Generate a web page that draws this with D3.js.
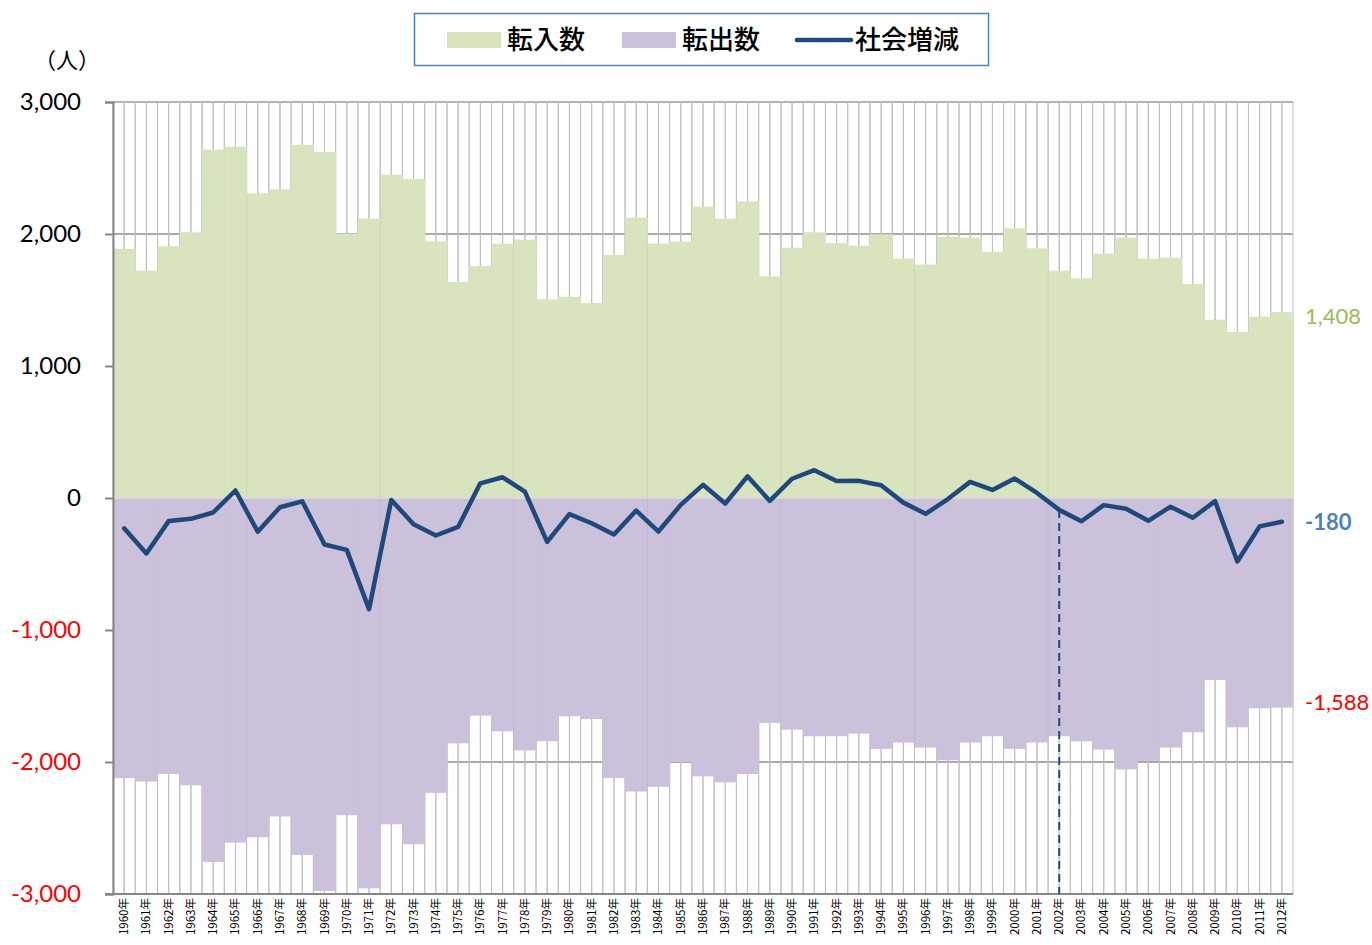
<!doctype html>
<html lang="ja">
  <head>
    <meta charset="utf-8">
    <title>転入数・転出数・社会増減</title>
    <script src="https://d3js.org/d3.v7.min.js"></script>
    <style>
      body { margin: 0; background: #fff; }
      svg { display: block; }
      .jp { font-family: "Noto Sans CJK JP", "Noto Sans", sans-serif; }
      .num { font-family: Lato, "Open Sans", sans-serif; }
    </style>
  </head>
  <body>
    <svg id="chart" width="1372" height="945"></svg>
  <script>
    // years on the category axis
    const years = d3.range(1960, 2013);

    // 転入数 (moved in)
    const inValues = [
      1888, 1722, 1907, 2013, 2639, 2662, 2308, 2338, 2674, 2621,
      2003, 2116, 2449, 2417, 1944, 1636, 1758, 1927, 1957, 1505,
      1525, 1477, 1841, 2124, 1927, 1942, 2207, 2116, 2247, 1679,
      1896, 2013, 1932, 1912, 1998, 1813, 1768, 1980, 1972, 1864,
      2043, 1891, 1722, 1664, 1851, 1972, 1813, 1821, 1621, 1351,
      1258, 1374, 1408
    ];

    // 転出数 (moved out), drawn below zero
    const outValues = [
      2122, 2148, 2090, 2176, 2757, 2611, 2570, 2413, 2704, 2977,
      2403, 2957, 2472, 2623, 2234, 1859, 1649, 1768, 1912, 1842,
      1654, 1675, 2122, 2224, 2188, 2001, 2109, 2154, 2091, 1704,
      1755, 1805, 1805, 1785, 1901, 1853, 1891, 1987, 1853, 1805,
      1901, 1853, 1805, 1843, 1906, 2056, 1992, 1891, 1775, 1378,
      1737, 1593, 1588
    ];

    // 社会増減 (net migration)
    const netValues = [
      -230, -420, -175, -158, -110, 57, -255, -70, -25, -352,
      -393, -842, -15, -199, -284, -219, 111, 157, 48, -333,
      -122, -191, -277, -95, -254, -52, 100, -42, 164, -22,
      146, 211, 128, 130, 97, -35, -120, -8, 122, 61,
      147, 38, -90, -176, -54, -81, -173, -66, -150, -24,
      -481, -215, -180
    ];

    const yTicks = [-3000, -2000, -1000, 0, 1000, 2000, 3000];
    const legendItems = ['転入数', '転出数', '社会増減'];
    const markYear = 2002;

    const colors = {
      in: '#d7e4bd',
      out: '#ccc1da',
      net: '#1f497d'
    };

    const plot = { left: 113, right: 1293, top: 102, bottom: 894 };

    // plain hyphen for negatives, like the original
    const fmt = d3.formatLocale({ decimal: '.', thousands: ',', grouping: [3], currency: ['', ''], minus: '-' }).format(',');

    const svg = d3.select('#chart');

    const x = d3.scaleBand()
      .domain(years)
      .range([plot.left, plot.right])
      .padding(0);
    const bw = x.bandwidth();

    const y = d3.scaleLinear()
      .domain([-3000, 3000])
      .range([plot.bottom, plot.top]);

    // horizontal gridlines
    svg.append('g')
      .selectAll('line')
      .data(yTicks)
      .enter().append('line')
        .attr('x1', plot.left).attr('x2', plot.right)
        .attr('y1', d => y(d)).attr('y2', d => y(d))
        .attr('stroke', '#8c8c8c')
        .attr('stroke-width', 1.5);

    // empty half-columns in the background (two per year)
    const halves = [];
    years.forEach(yr => { halves.push({ yr: yr, k: 0 }); halves.push({ yr: yr, k: 1 }); });
    svg.append('g')
      .selectAll('rect')
      .data(halves)
      .enter().append('rect')
        .attr('x', d => x(d.yr) + d.k * bw / 2)
        .attr('y', y(3000))
        .attr('width', bw / 2)
        .attr('height', y(-3000) - y(3000))
        .attr('fill', 'none')
        .attr('stroke', '#bfbfbf')
        .attr('stroke-width', 1);

    // moved in, above zero
    svg.append('g')
      .selectAll('rect')
      .data(years)
      .enter().append('rect')
        .attr('x', d => x(d))
        .attr('y', (d, i) => y(inValues[i]))
        .attr('width', bw + 0.5)
        .attr('height', (d, i) => y(0) - y(inValues[i]))
        .attr('fill', colors.in);

    // moved out, below zero
    svg.append('g')
      .selectAll('rect')
      .data(years)
      .enter().append('rect')
        .attr('x', d => x(d))
        .attr('y', y(0))
        .attr('width', bw + 0.5)
        .attr('height', (d, i) => y(-outValues[i]) - y(0))
        .attr('fill', colors.out);

    // faint seams every six years inside the filled areas
    svg.append('g')
      .selectAll('line')
      .data(years.filter((d, i) => i > 0 && i % 6 === 0 && i <= 42))
      .enter().append('line')
        .attr('x1', d => x(d)).attr('x2', d => x(d))
        .attr('y1', d => y(inValues[years.indexOf(d)]))
        .attr('y2', d => y(-outValues[years.indexOf(d)]))
        .attr('stroke', '#000')
        .attr('stroke-opacity', 0.05);

    // thin band at zero
    svg.append('line')
      .attr('x1', plot.left).attr('x2', plot.right)
      .attr('y1', y(0)).attr('y2', y(0))
      .attr('stroke', '#d9d9d9')
      .attr('stroke-width', 2);

    // left axis
    const yAxis = d3.axisLeft(y)
      .tickValues(yTicks)
      .tickSize(8)
      .tickPadding(24)
      .tickFormat(fmt);
    const gy = svg.append('g')
      .attr('transform', 'translate(' + plot.left + ',0)')
      .call(yAxis);
    gy.select('.domain').attr('stroke', '#868686').attr('stroke-width', 2);
    gy.selectAll('.tick line').attr('stroke', '#868686').attr('stroke-width', 2);
    gy.selectAll('.tick text')
      .attr('class', 'num')
      .attr('font-size', '24px')
      .attr('fill', d => d < 0 ? '#ff0000' : '#000');

    // bottom axis line and year labels
    svg.append('line')
      .attr('x1', plot.left - 8).attr('x2', plot.right)
      .attr('y1', plot.bottom).attr('y2', plot.bottom)
      .attr('stroke', '#868686')
      .attr('stroke-width', 2);

    svg.append('g')
      .selectAll('text')
      .data(years)
      .enter().append('text')
        .attr('class', 'jp')
        .attr('transform', d => 'translate(' + (x(d) + bw / 2 + 4) + ',' + (plot.bottom + 4) + ') rotate(-90)')
        .attr('text-anchor', 'end')
        .attr('font-size', '11.5px')
        .attr('fill', '#000')
        .text(d => d + '年');

    // dashed marker at 2002
    const mi = years.indexOf(markYear);
    svg.append('line')
      .attr('x1', x(markYear) + bw / 2).attr('x2', x(markYear) + bw / 2)
      .attr('y1', y(netValues[mi])).attr('y2', plot.bottom)
      .attr('stroke', colors.net)
      .attr('stroke-width', 2)
      .attr('stroke-dasharray', '8,5');

    // net line
    const line = d3.line()
      .x((d, i) => x(years[i]) + bw / 2)
      .y(d => y(d));
    svg.append('path')
      .datum(netValues)
      .attr('d', line)
      .attr('fill', 'none')
      .attr('stroke', colors.net)
      .attr('stroke-width', 4.5)
      .attr('stroke-linejoin', 'round')
      .attr('stroke-linecap', 'round');

    // end labels
    const last = years.length - 1;
    const endLabels = [
      { y: y(inValues[last]) + 12, color: '#9bbb59', weight: 'normal', text: fmt(inValues[last]) },
      { y: y(netValues[last]) + 8, color: '#4f81bd', weight: 'bold', text: fmt(netValues[last]) },
      { y: y(-outValues[last]) + 2, color: '#ff0000', weight: 'normal', text: fmt(-outValues[last]) }
    ];
    svg.append('g')
      .selectAll('text')
      .data(endLabels)
      .enter().append('text')
        .attr('class', 'num')
        .attr('x', plot.right + 12)
        .attr('y', d => d.y)
        .attr('font-size', '22px')
        .attr('font-weight', d => d.weight)
        .attr('fill', d => d.color)
        .text(d => d.text);

    // unit
    svg.append('text')
      .attr('class', 'jp')
      .attr('x', 34)
      .attr('y', 68)
      .attr('font-size', '22px')
      .text('（人）');

    // legend
    const lg = svg.append('g');
    lg.append('rect')
      .attr('x', 414.5).attr('y', 13.5)
      .attr('width', 574).attr('height', 52)
      .attr('fill', '#fff')
      .attr('stroke', '#4f81bd')
      .attr('stroke-width', 1.5);
    const lx = [447, 622, 795];
    lg.append('rect').attr('x', lx[0]).attr('y', 32).attr('width', 54).attr('height', 16).attr('fill', colors.in);
    lg.append('rect').attr('x', lx[1]).attr('y', 32).attr('width', 54).attr('height', 16).attr('fill', colors.out);
    lg.append('line')
      .attr('x1', lx[2] + 2).attr('x2', lx[2] + 56)
      .attr('y1', 40).attr('y2', 40)
      .attr('stroke', colors.net).attr('stroke-width', 4.5).attr('stroke-linecap', 'round');
    lg.selectAll('text.lt')
      .data(legendItems)
      .enter().append('text')
        .attr('class', 'jp lt')
        .attr('x', (d, i) => lx[i] + 60)
        .attr('y', 49)
        .attr('font-size', '26px')
        .attr('font-weight', 500)
        .text(d => d);
  </script>
  </body>
</html>
